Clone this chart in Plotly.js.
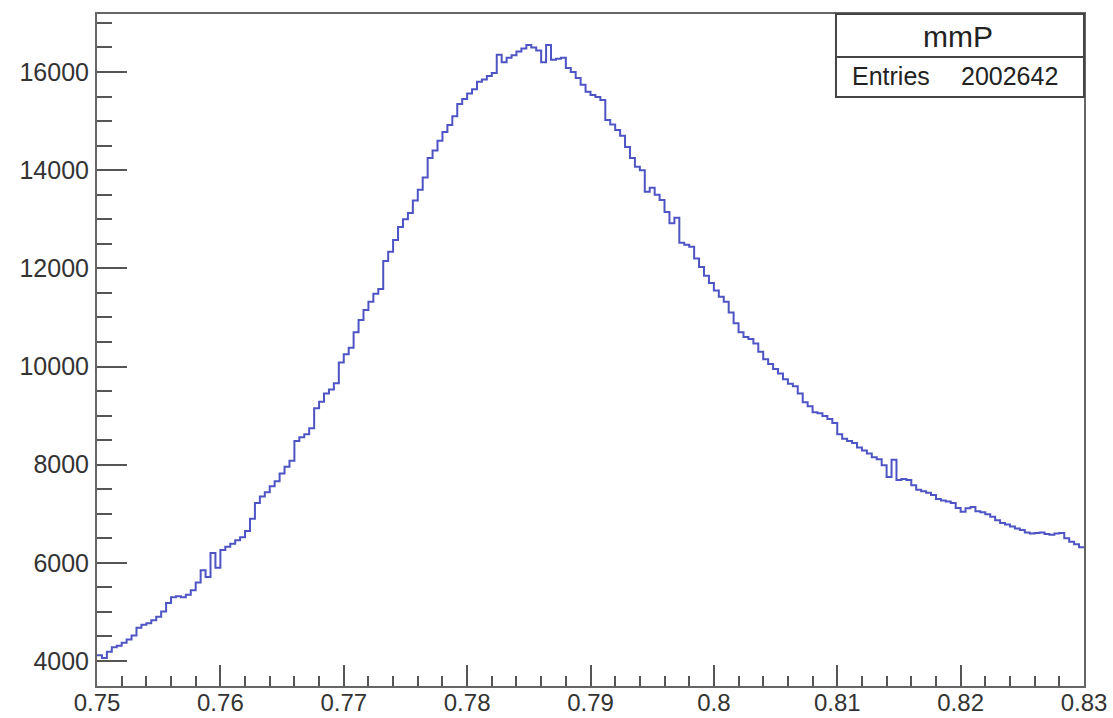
<!DOCTYPE html>
<html>
<head>
<meta charset="utf-8">
<script src="https://cdn.plot.ly/plotly-3.0.1.min.js"></script>
<style>
html,body{margin:0;padding:0;background:#fff;}
#chart{width:1113px;height:718px;}
</style>
</head>
<body>
<div id="chart"></div>
<script>
// Histogram "mmP": 200 bins from 0.75 to 0.83
const histName = "mmP";
const entriesLabel = "Entries";
const entriesValue = "2002642";
const xMin = 0.75;
const xMax = 0.83;
const nBins = 200;
const binContents = [
  4120, 4060, 4190, 4280, 4310, 4370, 4440, 4520, 4680, 4740,
  4770, 4830, 4900, 5010, 5180, 5300, 5320, 5300, 5350, 5440,
  5600, 5850, 5710, 6200, 5900, 6260, 6330, 6390, 6460, 6520,
  6650, 6900, 7220, 7350, 7440, 7560, 7660, 7820, 7960, 8080,
  8480, 8560, 8620, 8740, 9150, 9280, 9450, 9530, 9660, 10080,
  10250, 10380, 10700, 10950, 11150, 11320, 11480, 11580, 12150, 12340,
  12580, 12840, 13000, 13130, 13380, 13600, 13850, 14250, 14400, 14600,
  14780, 14920, 15100, 15350, 15450, 15560, 15650, 15800, 15850, 15920,
  15980, 16350, 16200, 16290, 16340, 16420, 16480, 16550, 16500, 16440,
  16200, 16550, 16250, 16270, 16290, 16080, 16000, 15880, 15740, 15600,
  15530, 15490, 15430, 15020, 14930, 14820, 14700, 14470, 14250, 14070,
  14000, 13560, 13640, 13500, 13390, 13150, 12920, 13030, 12520, 12480,
  12440, 12200, 12030, 11850, 11700, 11550, 11420, 11320, 11100, 10880,
  10700, 10600, 10560, 10470, 10300, 10150, 10050, 9950, 9860, 9740,
  9650, 9600, 9450, 9270, 9190, 9070, 9050, 8990, 8930, 8850,
  8620, 8530, 8480, 8440, 8350, 8290, 8230, 8150, 8110, 7990,
  7750, 8100, 7690, 7710, 7690, 7580, 7490, 7460, 7430, 7380,
  7300, 7270, 7250, 7220, 7120, 7040, 7110, 7140, 7050, 7030,
  6990, 6940, 6870, 6810, 6780, 6740, 6700, 6670, 6620, 6600,
  6610, 6620, 6590, 6570, 6600, 6610, 6500, 6430, 6380, 6320
];
const xTickVals = [0.75, 0.76, 0.77, 0.78, 0.79, 0.80, 0.81, 0.82, 0.83];
const xTickText = ["0.75", "0.76", "0.77", "0.78", "0.79", "0.8", "0.81", "0.82", "0.83"];
const yTickVals = [4000, 6000, 8000, 10000, 12000, 14000, 16000];
const yTickText = ["4000", "6000", "8000", "10000", "12000", "14000", "16000"];
const yRange = [3491, 17182];

// step outline: left bin edges, plus closing right edge
const binWidth = (xMax - xMin) / nBins;
const stepX = [];
const stepY = [];
for (let i = 0; i < nBins; i++) {
  stepX.push(xMin + i * binWidth);
  stepY.push(binContents[i]);
}
stepX.push(xMax);
stepY.push(binContents[nBins - 1]);

const fontFam = "'Liberation Sans', Arial, Helvetica, sans-serif";
const axisCol = "#666";

const trace = {
  x: stepX, y: stepY, type: "scatter", mode: "lines",
  line: {shape: "hv", color: "rgb(78,84,196)", width: 2},
  hoverinfo: "x+y", showlegend: false
};

const layout = {
  width: 1113, height: 718,
  margin: {l: 97, r: 29, t: 14, b: 32, pad: 0},
  paper_bgcolor: "#fff", plot_bgcolor: "#fff",
  font: {family: fontFam, color: "#333", size: 25},
  xaxis: {
    range: [xMin, xMax], tickvals: xTickVals, ticktext: xTickText,
    ticks: "inside", ticklen: 21, tickwidth: 2, tickcolor: "#555",
    showline: true, linecolor: axisCol, linewidth: 2, mirror: true,
    showgrid: false, zeroline: false, ticklabelstandoff: -6,
    tickfont: {family: fontFam, size: 24, color: "#333"},
    minor: {dtick: 0.002, tick0: 0.75, ticks: "inside", ticklen: 10, tickwidth: 2, tickcolor: "#555", showgrid: false}
  },
  yaxis: {
    range: yRange, tickvals: yTickVals, ticktext: yTickText,
    ticks: "inside", ticklen: 30, tickwidth: 2, tickcolor: "#555",
    showline: true, linecolor: axisCol, linewidth: 2, mirror: true,
    showgrid: false, zeroline: false, ticklabelstandoff: 1,
    tickfont: {family: fontFam, size: 25, color: "#333"},
    minor: {dtick: 500, tick0: 0, ticks: "inside", ticklen: 15, tickwidth: 2, tickcolor: "#555", showgrid: false}
  },
  shapes: [
    {type: "rect", xref: "paper", yref: "paper", x0: 0.7487, x1: 1.0, y0: 0.8765, y1: 1.0,
     fillcolor: "#fff", line: {color: "#444", width: 2}, layer: "above"},
    {type: "line", xref: "paper", yref: "paper", x0: 0.7487, x1: 1.0, y0: 0.936, y1: 0.936,
     line: {color: "#444", width: 2}, layer: "above"}
  ],
  annotations: [
    {text: histName, xref: "paper", yref: "paper", x: 0.872, y: 0.9665,
     xanchor: "center", yanchor: "middle", showarrow: false,
     font: {family: fontFam, size: 30, color: "#222"}},
    {text: entriesLabel, xref: "paper", yref: "paper", x: 0.7629, y: 0.9077,
     xanchor: "left", yanchor: "middle", showarrow: false,
     font: {family: fontFam, size: 25, color: "#222"}},
    {text: entriesValue, xref: "paper", yref: "paper", x: 0.9757, y: 0.9077,
     xanchor: "right", yanchor: "middle", showarrow: false,
     font: {family: fontFam, size: 25, color: "#222"}}
  ]
};

Plotly.newPlot("chart", [trace], layout, {displayModeBar: false, staticPlot: true});
</script>
</body>
</html>
